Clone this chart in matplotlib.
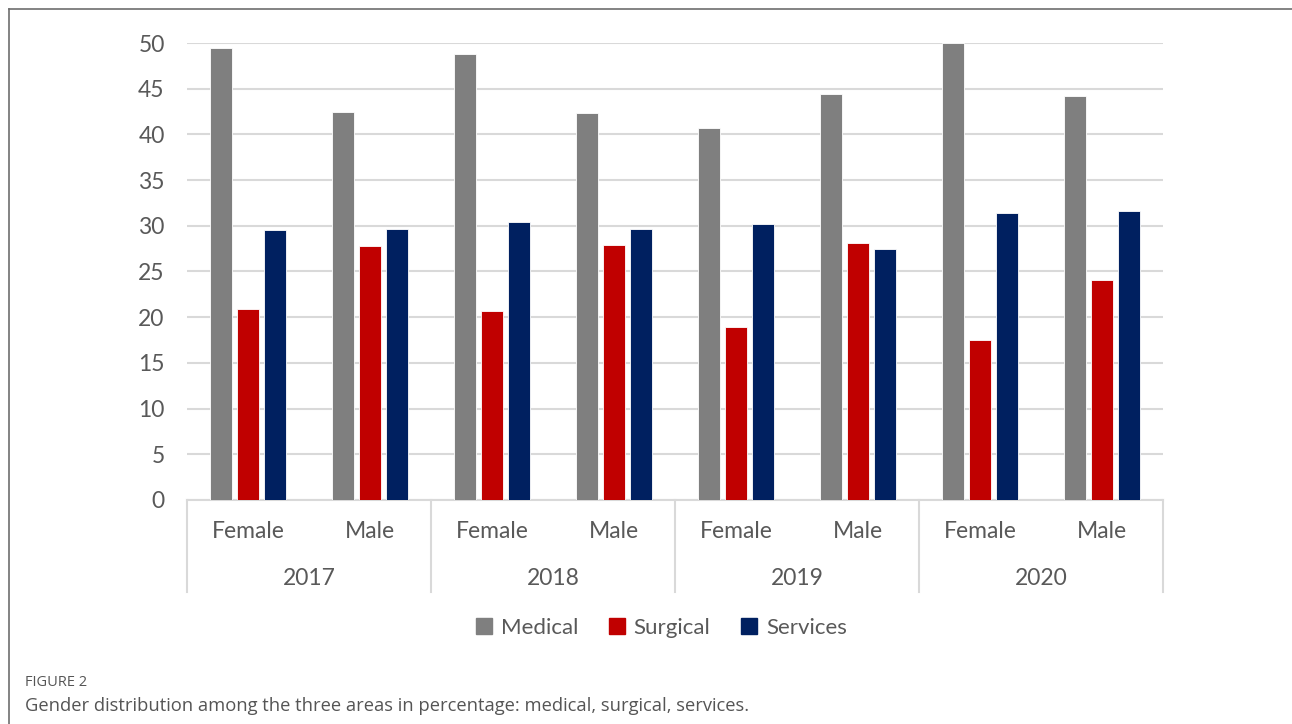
import numpy as np
import matplotlib.pyplot as plt
from matplotlib.lines import Line2D
from matplotlib.patches import Patch

# gender distribution by area, per year
years = ['2017', '2018', '2019', '2020']
genders = ['Female', 'Male']
medical = [49.4, 42.5, 48.8, 42.3, 40.7, 44.4, 50.0, 44.2]
surgical = [20.9, 27.8, 20.7, 27.9, 18.9, 28.1, 17.5, 24.1]
services = [29.5, 29.7, 30.4, 29.7, 30.2, 27.5, 31.4, 31.6]

series = [('Medical', medical, '#7f7f7f'),
          ('Surgical', surgical, '#c00000'),
          ('Services', services, '#002060')]

FONT = 'Lato'
TXT = '#595959'
FS = 16.5


def draw_chart():
    fig = plt.figure(figsize=(12.92, 7.24), dpi=100)
    ax = fig.add_axes([0.1447, 0.3094, 0.7554, 0.6312])

    x = np.arange(len(medical))
    width = 0.18
    step = 0.22
    for i, (name, vals, color) in enumerate(series):
        ax.bar(x + (i - 1) * step, vals, width, color=color,
               edgecolor='white', linewidth=0.6, zorder=3, label=name)

    ax.set_xlim(-0.5, len(medical) - 0.5)
    ax.set_ylim(0, 50)
    ax.set_yticks(range(0, 51, 5))
    ax.yaxis.grid(True, color='#d9d9d9', linewidth=1.5, zorder=0)
    ax.tick_params(axis='y', length=0, pad=16, labelsize=FS, labelcolor=TXT)
    for lab in ax.get_yticklabels():
        lab.set_family(FONT)
    ax.set_xticks([])
    for s in ['top', 'right', 'left']:
        ax.spines[s].set_visible(False)
    ax.spines['bottom'].set_color('#d9d9d9')
    ax.spines['bottom'].set_linewidth(1.5)

    # two-level category axis
    tr = ax.get_xaxis_transform()
    for b in np.arange(-0.5, len(medical), 2):
        ax.plot([b, b], [0, -0.201], transform=tr, color='#d9d9d9',
                linewidth=1.5, clip_on=False)
    for i in x:
        ax.text(i, -0.068, genders[i % 2], transform=tr, ha='center',
                va='center', fontsize=FS, color=TXT, family=FONT)
    for j, yr in enumerate(years):
        ax.text(2 * j + 0.5, -0.171, yr, transform=tr, ha='center',
                va='center', fontsize=FS, color=TXT, family=FONT)

    handles = [Patch(color=c, label=n) for n, _, c in series]
    fig.legend(handles=handles, loc='center', bbox_to_anchor=(0.512, 0.1326),
               ncol=3, frameon=False, handlelength=0.7, handleheight=0.7,
               handletextpad=0.4, columnspacing=1.4,
               prop={'family': FONT, 'size': 16}, labelcolor=TXT)

    # outer frame (top and left edges)
    fig.add_artist(Line2D([9 / 1292, 1], [1 - 9 / 724, 1 - 9 / 724],
                          color='#6e6e6e', linewidth=1.2))
    fig.add_artist(Line2D([9 / 1292, 9 / 1292], [0, 1 - 9 / 724],
                          color='#6e6e6e', linewidth=1.2))

    fig.text(25 / 1292, 1 - 683 / 724, 'FIGURE 2', fontsize=10.5,
             color='#555555', family='Open Sans', va='center')
    fig.text(25 / 1292, 1 - 706 / 724,
             'Gender distribution among the three areas in percentage: '
             'medical, surgical, services.',
             fontsize=13.2, color='#555555', family='Open Sans', va='center')

    fig.savefig('out.png', dpi=100)


if __name__ == '__main__':
    draw_chart()
